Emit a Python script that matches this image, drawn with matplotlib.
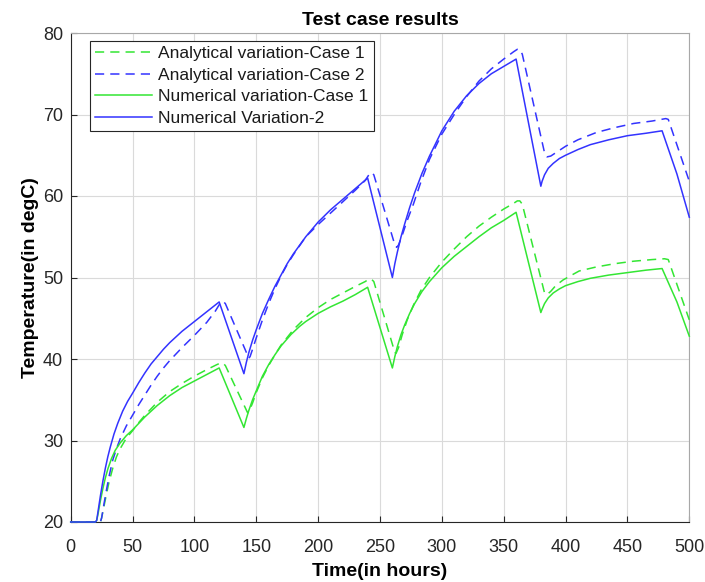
import matplotlib
matplotlib.use("Agg")
import matplotlib.pyplot as plt

# =====================
# DATA
# =====================
# Analytical variation - Case 1 (green dashed)
t_ana1 = [0, 24, 25, 27, 29, 31, 34, 37, 40, 45, 50, 55, 60, 70, 80, 90, 100, 110, 118, 121, 123, 125,
          143, 144, 147, 150, 155, 160, 165, 170, 180, 190, 200, 210, 220, 230, 238, 241, 243, 245,
          262, 263, 265, 268, 272, 277, 283, 290, 300, 310, 320, 330, 340, 350, 358, 361, 363, 365,
          383, 385, 388, 392, 398, 405, 411, 425, 440, 455, 470, 480, 483, 500]
T_ana1 = [20, 20, 20.5, 22.0, 23.5, 24.9, 26.6, 28.0, 29.0, 30.3, 31.2, 32.2, 33.1, 34.7, 36.0, 37.0, 37.9, 38.7, 39.3, 39.5, 39.5, 39.2,
          33.4, 33.5, 34.6, 35.9, 37.7, 39.2, 40.5, 41.7, 43.6, 45.1, 46.3, 47.3, 48.1, 48.9, 49.5, 49.8, 49.8, 49.5,
          40.8, 40.7, 41.4, 43.0, 44.8, 46.6, 48.4, 50.0, 51.9, 53.5, 55.0, 56.3, 57.4, 58.4, 59.1, 59.4, 59.4, 59.0,
          48.1, 47.9, 48.3, 49.0, 49.7, 50.3, 50.8, 51.3, 51.7, 52.0, 52.2, 52.3, 52.2, 44.8]

# Analytical variation - Case 2 (blue dashed)
t_ana2 = [0, 24, 25, 27, 29, 31, 34, 37, 40, 45, 50, 55, 60, 65, 70, 75, 80, 90, 100, 110, 117, 121, 123, 125,
          144, 145, 147, 150, 155, 160, 165, 170, 175, 180, 190, 200, 210, 220, 230, 238, 241, 243, 245,
          262, 263.5, 265, 268, 272, 277, 283, 290, 300, 310, 320, 330, 340, 350, 358, 361, 363, 365,
          383, 385, 388, 392, 396, 400, 410, 425, 440, 455, 470, 481, 483, 500]
T_ana2 = [20, 20, 20.5, 22.3, 24.0, 25.6, 27.6, 29.0, 30.2, 31.8, 33.1, 34.4, 35.6, 36.8, 37.9, 38.9, 39.8, 41.4, 42.9, 44.5, 45.9, 46.9, 47.1, 46.8,
          40.1, 40.3, 41.2, 42.6, 44.8, 46.8, 48.6, 50.2, 51.6, 52.8, 55.0, 56.5, 57.9, 59.3, 60.7, 61.9, 62.6, 62.9, 62.6,
          54.0, 53.7, 54.0, 55.2, 57.0, 59.0, 61.7, 64.5, 67.6, 70.0, 72.2, 74.1, 75.6, 76.8, 77.7, 78.0, 78.0, 77.4,
          65.3, 64.8, 64.9, 65.3, 65.7, 66.1, 66.9, 67.8, 68.4, 68.9, 69.2, 69.5, 69.4, 61.8]

# Numerical variation - Case 1 (green solid)
t_num1 = [0, 20, 21, 22, 24, 26, 28, 30, 33, 36, 40, 45, 50, 55, 60, 70, 80, 90, 100, 110, 120,
          140, 142, 144, 147, 150, 155, 160, 165, 170, 178, 185, 190, 200, 210, 220, 230, 240,
          260, 262, 264, 267, 270, 274, 278, 284, 290, 300, 310, 320, 330, 340, 350, 360,
          380, 381, 383, 386, 390, 395, 400, 410, 420, 435, 450, 465, 478, 490, 500]
T_num1 = [20, 20, 20.2, 20.9, 22.6, 24.1, 25.4, 26.5, 27.8, 28.8, 29.7, 30.6, 31.3, 32.1, 32.9, 34.3, 35.5, 36.5, 37.3, 38.1, 38.9,
          31.6, 32.7, 33.7, 35.0, 36.1, 37.9, 39.3, 40.5, 41.6, 43.0, 44.0, 44.6, 45.6, 46.4, 47.1, 47.9, 48.8,
          38.9, 40.3, 41.5, 43.0, 44.2, 45.6, 46.8, 48.3, 49.5, 51.2, 52.6, 53.8, 55.0, 56.1, 57.0, 58.0,
          45.7, 46.1, 46.8, 47.5, 48.1, 48.6, 49.0, 49.5, 49.9, 50.3, 50.6, 50.9, 51.1, 47.0, 42.8]

# Numerical Variation-2 (blue solid)
t_num2 = [0, 20, 21, 22, 24, 26, 28, 30, 32, 35, 38, 42, 46, 50, 55, 60, 65, 70, 75, 80, 90, 100, 110, 120,
          140, 142, 144, 147, 150, 155, 160, 165, 170, 175, 180, 190, 200, 210, 220, 230, 240,
          260, 262, 264, 267, 270, 274, 278, 284, 290, 300, 310, 320, 330, 340, 350, 360,
          380, 381, 383, 386, 390, 395, 400, 410, 420, 435, 450, 465, 478, 490, 500]
T_num2 = [20, 20, 20.2, 21.2, 23.2, 25.0, 26.6, 28.0, 29.2, 30.8, 32.1, 33.6, 34.8, 35.8, 37.1, 38.3, 39.4, 40.3, 41.2, 42.0, 43.4, 44.6, 45.8, 47.0,
          38.2, 39.6, 40.8, 42.3, 43.6, 45.6, 47.3, 48.9, 50.3, 51.7, 52.9, 55.0, 56.8, 58.3, 59.6, 60.9, 62.2,
          50.0, 51.7, 53.1, 55.0, 56.6, 58.6, 60.4, 62.8, 64.9, 68.0, 70.4, 72.3, 73.8, 75.0, 75.9, 76.8,
          61.2, 61.8, 62.6, 63.4, 64.0, 64.6, 65.0, 65.7, 66.3, 66.9, 67.4, 67.7, 68.0, 62.7, 57.4]

labels = ['Analytical variation-Case 1', 'Analytical variation-Case 2',
          'Numerical variation-Case 1', 'Numerical Variation-2']
x_ticks = list(range(0, 501, 50))
y_ticks = list(range(20, 81, 10))

GREEN = '#33e633'
BLUE = '#3333ff'
AX_COL = '#262626'

plt.rcParams['font.family'] = ['Liberation Sans', 'DejaVu Sans']

# =====================
# PLOT
# =====================
fig = plt.figure(figsize=(7.05, 5.82), dpi=100)
ax = fig.add_axes([70.7 / 705, 1 - 522 / 582, 618.6 / 705, 489 / 582])

dash = (6, 4)
ax.plot(t_ana1, T_ana1, color=GREEN, lw=1.1, dashes=dash, label=labels[0], clip_on=False, zorder=3)
ax.plot(t_ana2, T_ana2, color=BLUE, lw=1.1, dashes=dash, label=labels[1], clip_on=False, zorder=3)
ax.plot(t_num1, T_num1, color=GREEN, lw=1.1, label=labels[2], clip_on=False, zorder=3)
ax.plot(t_num2, T_num2, color=BLUE, lw=1.1, label=labels[3], clip_on=False, zorder=3)

ax.set_xlim(0, 500)
ax.set_ylim(20, 80)
ax.set_xticks(x_ticks)
ax.set_yticks(y_ticks)
ax.grid(True, color='#dadada', lw=0.8)
ax.set_axisbelow(True)

ax.tick_params(axis='x', direction='in', length=4, width=0.8, color=AX_COL,
               labelcolor=AX_COL, labelsize=13, pad=12)
ax.tick_params(axis='y', direction='in', length=4, width=0.8, color=AX_COL,
               labelcolor=AX_COL, labelsize=13, pad=5.5)
for side in ['left', 'bottom']:
    ax.spines[side].set_color(AX_COL)
    ax.spines[side].set_linewidth(0.8)
for side in ['top', 'right']:
    ax.spines[side].set_color('#a8a8a8')
    ax.spines[side].set_linewidth(0.8)

ax.set_title('Test case results', fontsize=14, fontweight='bold', color='black', pad=6)
ax.set_xlabel('Time(in hours)', fontsize=14, fontweight='bold', color='black', labelpad=5)
ax.set_ylabel('Temperature(in degC)', fontsize=14, fontweight='bold', color='black', labelpad=3)

leg = ax.legend(loc='upper left', bbox_to_anchor=(0.031, 0.984), borderaxespad=0,
                fontsize=12.5, handlelength=3.3, handletextpad=0.35, borderpad=0.3,
                labelspacing=0.37, fancybox=False, framealpha=1)
leg.get_frame().set_edgecolor(AX_COL)
leg.get_frame().set_linewidth(0.8)
for txt in leg.get_texts():
    txt.set_color('#1a1a1a')

fig.savefig('out.png', dpi=100)
